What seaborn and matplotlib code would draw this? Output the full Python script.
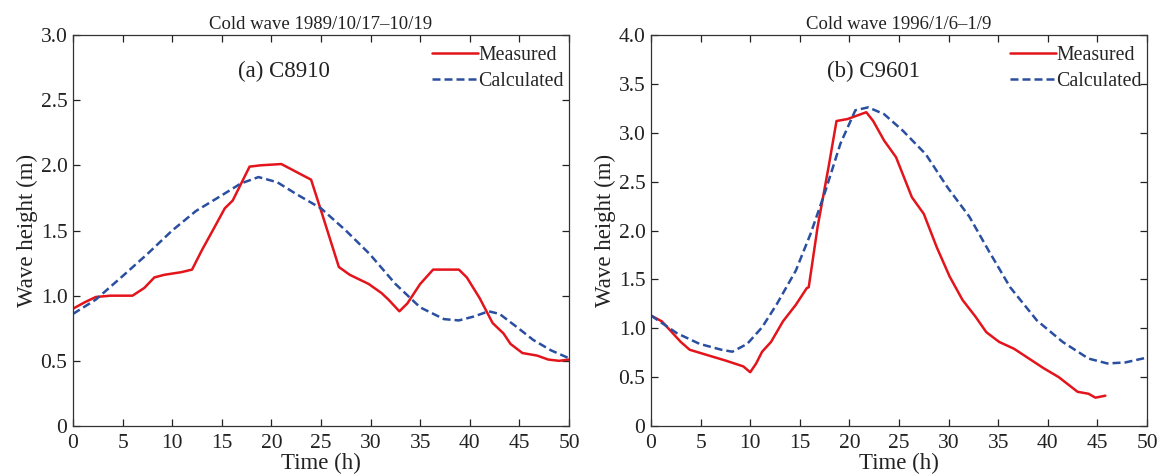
import numpy as np
import pandas as pd
import matplotlib
matplotlib.use("Agg")
import matplotlib.pyplot as plt
import seaborn as sns

# ---- Panel (a) C8910 ----
a_meas_t = [0, 1.2, 2.3, 3.8, 6.0, 7.2, 8.2, 9.2, 10.9, 12.0, 13.0, 14.3, 15.3, 16.1, 17.8, 18.9,
            21.0, 22.5, 24.0, 25.1, 26.8, 27.9, 29.8, 31.1, 31.8, 32.9, 33.7, 35.0, 36.3, 38.9,
            39.7, 41.0, 42.3, 43.4, 44.1, 45.3, 46.8, 47.9, 49.0, 50.0]
a_meas_h = [0.90, 0.95, 0.99, 1.00, 1.00, 1.06, 1.14, 1.16, 1.18, 1.20, 1.35, 1.53, 1.67, 1.73, 1.99, 2.00,
            2.01, 1.95, 1.89, 1.63, 1.22, 1.16, 1.09, 1.02, 0.97, 0.88, 0.94, 1.09, 1.20, 1.20,
            1.14, 0.98, 0.79, 0.71, 0.63, 0.56, 0.54, 0.51, 0.50, 0.51]
a_calc_t = [0, 2.3, 5.0, 7.5, 10.0, 12.4, 15.0, 16.9, 18.7, 20.6, 22.5, 25.0, 27.5, 29.9, 32.5,
            35.0, 37.4, 38.9, 40.4, 41.9, 43.0, 44.9, 46.4, 48.2, 50.0]
a_calc_h = [0.86, 0.97, 1.15, 1.32, 1.50, 1.65, 1.77, 1.86, 1.91, 1.87, 1.78, 1.67, 1.50, 1.32, 1.09,
            0.91, 0.82, 0.81, 0.84, 0.88, 0.86, 0.75, 0.66, 0.58, 0.52]

# ---- Panel (b) C9601 ----
b_meas_t = [0, 1.1, 3.0, 3.9, 5.2, 7.5, 9.3, 10.0, 10.6, 11.2, 12.1, 13.3, 14.6, 15.7, 15.9, 16.8,
            17.9, 18.7, 19.8, 21.7, 22.4, 23.5, 24.7, 26.3, 27.5, 28.8, 30.1, 31.4, 32.7, 33.8,
            35.1, 36.6, 38.1, 39.6, 41.1, 43.0, 44.1, 44.8, 45.8]
b_meas_h = [1.13, 1.07, 0.86, 0.78, 0.74, 0.67, 0.61, 0.55, 0.64, 0.76, 0.86, 1.07, 1.24, 1.41, 1.42, 2.04,
            2.65, 3.12, 3.14, 3.21, 3.12, 2.92, 2.75, 2.34, 2.17, 1.83, 1.53, 1.29, 1.12, 0.96,
            0.86, 0.79, 0.69, 0.59, 0.50, 0.35, 0.33, 0.29, 0.31]
b_calc_t = [0, 2.6, 4.9, 7.1, 8.2, 9.7, 11.2, 12.7, 14.6, 16.1, 17.6, 19.1, 20.6, 21.9, 23.5, 25.4,
            27.7, 29.9, 32.1, 34.0, 36.2, 38.9, 41.5, 44.1, 46.0, 47.8, 50.0]
b_calc_h = [1.13, 0.95, 0.84, 0.78, 0.76, 0.84, 1.01, 1.25, 1.59, 1.97, 2.41, 2.89, 3.23, 3.26, 3.19, 3.02,
            2.78, 2.44, 2.14, 1.80, 1.42, 1.08, 0.86, 0.69, 0.64, 0.65, 0.70]

titles = ["Cold wave 1989/10/17\u201310/19", "Cold wave 1996/1/6\u20131/9"]
labels = ["(a) C8910", "(b) C9601"]
series_names = ["Measured", "Calculated"]
y_max = [3.0, 4.0]
x_ticks = [0, 5, 10, 15, 20, 25, 30, 35, 40, 45, 50]

sns.set_style("ticks")
plt.rcParams['font.family'] = ['Liberation Serif', 'DejaVu Serif']

fig = plt.figure(figsize=(11.63, 4.76), dpi=100)
W, H = 1163, 476
axes = [fig.add_axes([73 / W, 1 - 426 / H, (569 - 73) / W, (426 - 35) / H]),
        fig.add_axes([651 / W, 1 - 426 / H, (1147 - 651) / W, (426 - 35) / H])]

panels = [((a_meas_t, a_meas_h), (a_calc_t, a_calc_h)),
          ((b_meas_t, b_meas_h), (b_calc_t, b_calc_h))]
label_pos = [(21.3, 2.72), (22.4, 3.63)]
txt = "#222222"

for i, ax in enumerate(axes):
    (mt, mh), (ct, ch) = panels[i]
    df = pd.concat([
        pd.DataFrame({"t": mt, "h": mh, "s": series_names[0]}),
        pd.DataFrame({"t": ct, "h": ch, "s": series_names[1]}),
    ])
    sns.lineplot(data=df, x="t", y="h", hue="s", style="s",
                 palette={"Measured": "#e3141b", "Calculated": "#2a4ea0"},
                 dashes={"Measured": "", "Calculated": (3.2, 1.6)},
                 linewidth=1.8, sort=False, estimator=None, ax=ax)
    ax.set_xlim(0, 50)
    ax.set_ylim(0, y_max[i])
    ax.set_xticks(x_ticks)
    yt = np.arange(0, y_max[i] + 0.01, 0.5)
    ax.set_yticks(yt)
    ax.set_yticklabels(["0"] + [f"{v:.1f}" for v in yt[1:]])
    ax.set_xticklabels([str(v) for v in x_ticks])
    ax.tick_params(direction="in", top=True, right=True, length=5, width=0.9,
                   labelsize=15.5, colors=txt, pad=4)
    ax.tick_params(axis="x", pad=6)
    for sp in ax.spines.values():
        sp.set_linewidth(0.9)
        sp.set_color("#333333")
    ax.set_xlabel("Time (h)", fontsize=16.5, labelpad=0, color=txt)
    ax.set_ylabel("Wave height (m)", fontsize=16.5, labelpad=2, color=txt)
    ax.set_title(titles[i], fontsize=13.5, pad=4, color=txt)
    ax.text(label_pos[i][0], label_pos[i][1], labels[i], fontsize=16.5,
            ha="center", va="center", color=txt)
    ax.legend(loc="upper right", frameon=False, fontsize=14.3,
              handlelength=2.3, handletextpad=0.05, borderaxespad=0.0,
              labelspacing=0.34, borderpad=0.55, bbox_to_anchor=(1.012, 1.0))

fig.savefig("out.png", dpi=100)
